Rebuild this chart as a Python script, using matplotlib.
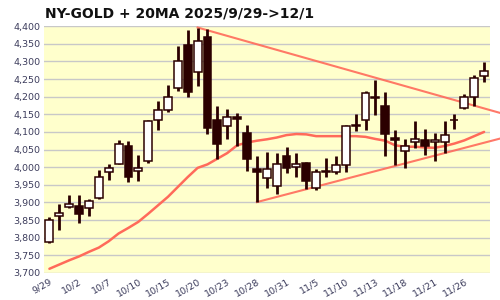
import matplotlib
matplotlib.use("Agg")
import matplotlib.pyplot as plt
import numpy as np

dates = ["9/29","9/30","10/1","10/2","10/3","10/6","10/7","10/8","10/9","10/10",
         "10/13","10/14","10/15","10/16","10/17","10/20","10/21","10/22","10/23","10/24",
         "10/27","10/28","10/29","10/30","10/31","11/3","11/4","11/5","11/6","11/7",
         "11/10","11/11","11/12","11/13","11/14","11/17","11/18","11/19","11/20","11/21",
         "11/24","11/25","11/26","11/28","12/1"]
opens  = [3789,3863,3887,3889,3883,3913,3985,4008,4059,3989,
          4018,4133,4161,4225,4346,4271,4368,4133,4116,4141,
          4098,3996,3968,3946,4033,4001,4012,3942,3987,3987,
          4006,4121,4135,4199,4173,4082,4047,4070,4076,4070,
          4070,4133,4169,4200,4259]
closes = [3851,3870,3895,3868,3905,3971,3999,4067,3972,3997,
          4130,4162,4198,4300,4214,4357,4110,4067,4141,4138,
          4022,3985,3996,4010,3998,4010,3961,3986,3990,4005,
          4118,4117,4209,4195,4095,4076,4061,4079,4060,4076,
          4090,4133,4198,4252,4272]
highs  = [3859,3895,3920,3920,3911,3991,4010,4076,4074,4034,
          4133,4187,4233,4343,4389,4396,4391,4173,4166,4155,
          4121,4031,4042,4040,4058,4039,4015,3996,4027,4031,
          4121,4152,4216,4247,4213,4105,4079,4130,4108,4096,
          4130,4152,4207,4261,4299]
lows   = [3785,3823,3883,3842,3862,3911,3963,4008,3958,3961,
          4012,4105,4157,4216,4198,4231,4095,4022,4081,4059,
          3989,3901,3941,3925,3984,3972,3937,3935,3972,3980,
          3986,4103,4105,4147,4031,4006,3998,4055,4034,4018,
          4039,4109,4166,4173,4242]
ma20   = [3712,3724,3736,3747,3760,3772,3790,3812,3828,3845,
          3868,3892,3916,3944,3972,3998,4008,4024,4040,4062,
          4070,4075,4079,4084,4091,4094,4093,4088,4088,4088,
          4088,4088,4086,4080,4075,4062,4058,4058,4056,4055,
          4060,4067,4076,4088,4100]
upper_trend_x = [15, 45.6]
upper_trend_y = [4396, 4154]
lower_trend_x = [21, 45.6]
lower_trend_y = [3901, 4081]
yticks = list(range(3700, 4401, 50))

dark = "#2b0000"
red = "#ff6a5a"

fig = plt.figure(figsize=(5, 3), dpi=100)
ax = fig.add_axes([0.087, 0.09, 0.893, 0.823])
ax.set_facecolor("#ffffcc")
fig.patch.set_facecolor("white")

x = np.arange(len(dates))
ax.set_xlim(-0.6, len(dates) - 0.4)
ax.set_ylim(3700, 4400)

for v in yticks:
    ax.axhline(v, color="#c8c8c8", lw=1.0, zorder=1)

ax.plot(x, ma20, color=red, lw=1.8, zorder=2, solid_capstyle="round")
ax.plot(upper_trend_x, upper_trend_y, color=red, lw=1.5, alpha=0.9, zorder=2, clip_on=False)
ax.plot(lower_trend_x, lower_trend_y, color=red, lw=1.5, alpha=0.9, zorder=2, clip_on=False)

o = np.array(opens); c = np.array(closes)
ax.vlines(x, lows, highs, color=dark, lw=2.0, zorder=3)
fills = ["white" if cc > oo else (dark if cc < oo else "#a8a8a8") for oo, cc in zip(o, c)]
bottoms = np.minimum(o, c)
heights = np.maximum(np.abs(c - o), 1.5)
ax.bar(x, heights, bottom=bottoms, width=0.8, color=fills, edgecolor=dark,
       linewidth=1.1, zorder=4)

for s in ax.spines.values():
    s.set_visible(False)

ax.set_yticks(yticks)
ax.set_yticklabels([f"{v:,}" for v in yticks])
ax.set_xticks(x[::3])
ax.set_xticklabels(dates[::3], rotation=30, ha="right", rotation_mode="anchor")
ax.tick_params(axis="both", length=0, labelsize=6.8, labelcolor="#3c3c5c")
ax.tick_params(axis="x", pad=3)
ax.tick_params(axis="y", pad=2)

fig.text(0.09, 0.955, "NY-GOLD + 20MA 2025/9/29->12/1", fontsize=10,
         fontweight="bold", ha="left", va="center", color="#111111")

fig.savefig("out.png", dpi=100)
